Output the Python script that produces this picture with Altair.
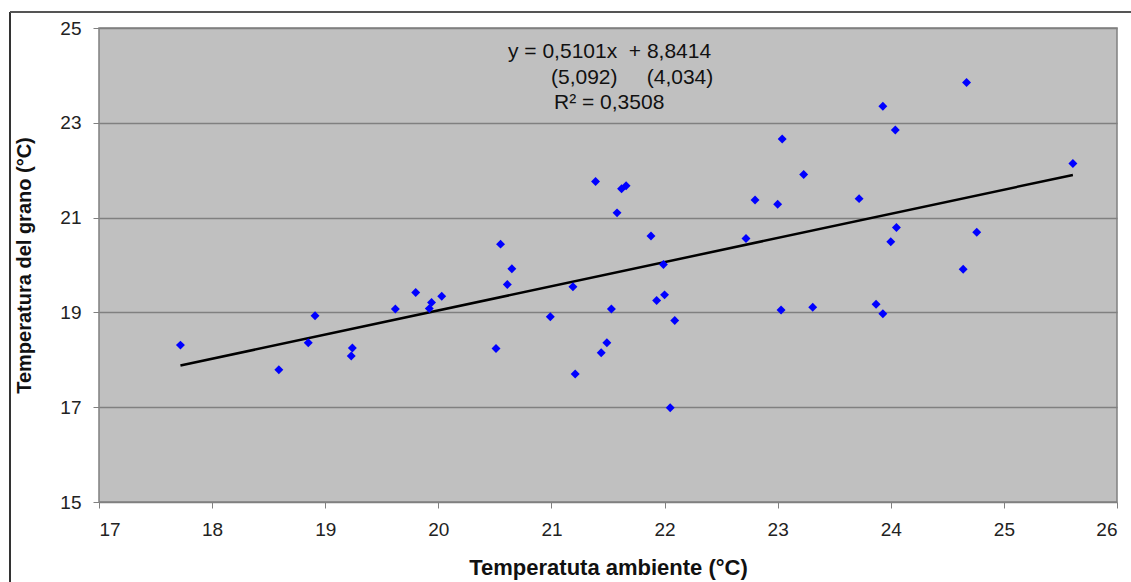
import altair as alt
import pandas as pd

# Scatter data
amb = [17.72, 18.59, 18.85, 18.91, 19.24, 19.23, 19.62, 19.80, 19.92, 19.94, 20.03,
       20.51, 20.55, 20.61, 20.65, 20.99, 21.19, 21.21, 21.39, 21.44, 21.49, 21.53,
       21.58, 21.62, 21.66, 21.88, 21.93, 21.99, 22.00, 22.05, 22.09,
       22.72, 22.80, 23.00, 23.04, 23.03, 23.23, 23.31, 23.72, 23.87, 23.93, 23.93,
       24.00, 24.04, 24.05, 24.64, 24.67, 24.76, 25.61]
grano = [18.31, 17.79, 18.36, 18.93, 18.25, 18.08, 19.07, 19.42, 19.08, 19.21, 19.34,
         18.24, 20.44, 19.59, 19.92, 18.91, 19.54, 17.70, 21.76, 18.15, 18.36, 19.07,
         21.10, 21.61, 21.67, 20.61, 19.25, 20.01, 19.37, 16.99, 18.83,
         20.56, 21.37, 21.28, 22.66, 19.05, 21.91, 19.11, 21.40, 19.17, 23.35, 18.97,
         20.49, 22.85, 20.79, 19.91, 23.85, 20.69, 22.14]

trend_x = [17.72, 25.61]
trend_y = [17.88, 21.90]

NB = "\u00a0"
eq_lines = ["y = 0,5101x" + NB + NB + "+ 8,8414",
            "(5,092)" + NB * 5 + "(4,034)",
            "R² = 0,3508"]

x_ticks = [17, 18, 19, 20, 21, 22, 23, 24, 25, 26]
y_ticks = [15, 17, 19, 21, 23, 25]

pts = pd.DataFrame({"amb": amb, "grano": grano})
trend = pd.DataFrame({"amb": trend_x, "grano": trend_y})

FONT = "Liberation Sans"

xscale = alt.Scale(domain=[17, 26], nice=False, zero=False)
yscale = alt.Scale(domain=[15, 25], nice=False, zero=False)

xaxis = alt.Axis(title="Temperatuta ambiente (°C)", values=x_ticks, grid=False, format="d",
                 labelFontSize=19, labelColor="#222222", labelFont=FONT,
                 titleFontSize=22, titleFont=FONT, titleFontWeight="bold",
                 titleColor="#111111", titlePadding=18,
                 tickColor="#808080", tickSize=6, domain=False, labelPadding=12)
yaxis = alt.Axis(title="Temperatura del grano (°C)", values=y_ticks, grid=True, format="d",
                 gridColor="#808080", gridWidth=1.5, gridOpacity=1,
                 labelFontSize=19, labelColor="#222222", labelFont=FONT,
                 titleFontSize=20, titleFont=FONT, titleFontWeight="bold",
                 titleColor="#111111", titlePadding=25,
                 tickColor="#808080", tickSize=6, domain=False, labelPadding=12)

points = alt.Chart(pts).mark_point(shape="diamond", filled=True, size=80,
                                   color="#0000FF", opacity=1).encode(
    x=alt.X("amb:Q", scale=xscale, axis=xaxis),
    y=alt.Y("grano:Q", scale=yscale, axis=yaxis),
)

line = alt.Chart(trend).mark_line(color="#000000", strokeWidth=2.5).encode(
    x=alt.X("amb:Q", scale=xscale),
    y=alt.Y("grano:Q", scale=yscale),
)

eq_pos_x = [409, 452, 455]
eq_pos_y = [24, 50, 75]
texts = []
for k in range(3):
    texts.append(
        alt.Chart(pd.DataFrame({"t": [eq_lines[k]]})).mark_text(
            align="left", baseline="middle", font=FONT, fontSize=21, color="#111111"
        ).encode(text="t:N", x=alt.value(eq_pos_x[k]), y=alt.value(eq_pos_y[k]))
    )

frame_left = alt.Chart(pd.DataFrame({"a": [0]})).mark_rule(
    color="#333333", strokeWidth=2, clip=False
).encode(x=alt.value(-89), y=alt.value(-16), y2=alt.value(560))
frame_top = alt.Chart(pd.DataFrame({"a": [0]})).mark_rule(
    color="#555555", strokeWidth=2, clip=False
).encode(x=alt.value(-89), x2=alt.value(1040), y=alt.value(-16))

chart = alt.layer(line, points, *texts, frame_left, frame_top).properties(
    width=1018, height=474,
    autosize=alt.AutoSizeParams(type="none"),
    padding={"left": 99, "top": 28, "right": 14, "bottom": 80},
    background="white",
).configure_view(fill="#C0C0C0", stroke="#808080", strokeWidth=1.5)

chart.save("out.html", embed_options={"renderer": "svg", "actions": False})
